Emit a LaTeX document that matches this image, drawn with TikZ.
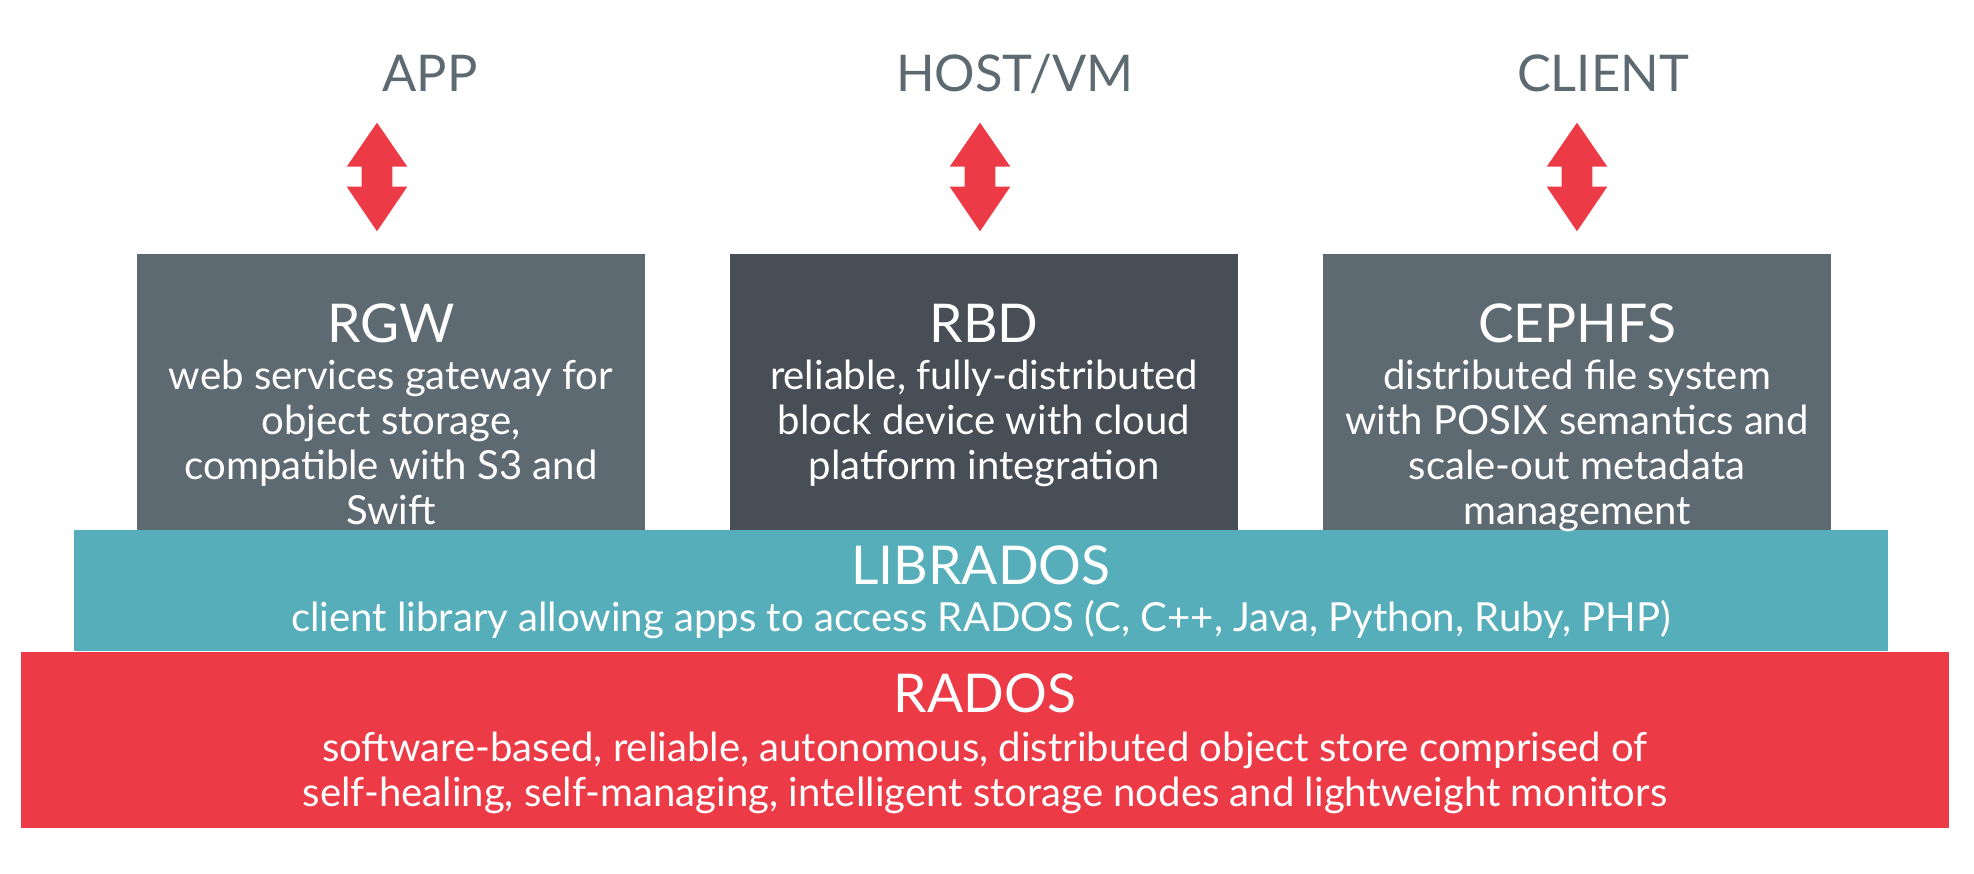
\documentclass[tikz,border=0pt]{standalone}
\usepackage{fontspec}
\setmainfont{Lato}
\usepackage{tikz}
\usetikzlibrary{positioning}
\definecolor{cephGray}{HTML}{5E6A72}
\definecolor{cephDark}{HTML}{474E55}
\definecolor{cephTeal}{HTML}{57AEBB}
\definecolor{cephRed}{HTML}{EC3A46}
\newcommand{\biarrow}[1]{%
  \fill[cephRed] (#1) -- ++(30.3,44) -- ++(-15,0) -- ++(0,20) -- ++(15,0)
    -- ++(-30.3,44.6) -- ++(-30.3,-44.6) -- ++(15,0) -- ++(0,-20) -- ++(-15,0) -- cycle;}
\tikzset{
  svcbox/.style={ draw=none, inner sep=0pt, minimum width=5.08cm, minimum height=2.76cm }
}
\tikzset{
  layerbox/.style={ draw=none, inner sep=0pt }
}
\tikzset{
  boxtitle/.style={ anchor=base, inner sep=0pt, text=white, font=\fontsize{15.2}{17}\selectfont }
}
\tikzset{
  boxtext/.style={ anchor=base, inner sep=0pt, text=white, align=center, font=\fontsize{11.4}{12.8}\selectfont }
}
\tikzset{
  client/.style={ anchor=base, inner sep=0pt, text=cephGray, font=\fontsize{14.4}{17}\selectfont }
}

\begin{document}
\begin{tikzpicture}[y=-0.01cm, x=0.01cm]
      \useasboundingbox (0,0) rectangle (1974,874);
      \node[svcbox, fill=cephGray] (rgw) at (391,392) {};
      \node[svcbox, fill=cephDark] (rbd) at (984,392) {};
      \node[svcbox, fill=cephGray] (cephfs) at (1577,392) {};
      \node[layerbox, fill=cephTeal, minimum width=18.12cm, minimum height=1.21cm] (librados) at (981,590.5) {};
      \node[layerbox, fill=cephRed, minimum width=19.26cm, minimum height=1.76cm] (rados) at (985,740) {};
      \node[boxtitle] (rgwT) at (391,342.7) {RGW};
      \node[boxtitle] (rbdT) at (984,342.7) {RBD};
      \node[boxtitle] (cephfsT) at (1577,342.7) {CEPHFS};
      \node[boxtitle] (libradosT) at (981,585) {LIBRADOS};
      \node[boxtitle] (radosT) at (985,713) {RADOS};
      % base of a multi-line node sits on its last line
      \node[boxtext] (rgwB) at (391,525) {web services gateway for\\object storage,\\compatible with S3 and\\Swift};
      \node[boxtext] (rbdB) at (984,480) {reliable, fully-distributed\\block device with cloud\\platform integration};
      \node[boxtext] (cephfsB) at (1577,525) {distributed file system\\with POSIX semantics and\\scale-out metadata\\management};
      \node[boxtext] (libradosB) at (981,632) {client library allowing apps to access RADOS (C, C++, Java, Python, Ruby, PHP)};
      \node[boxtext] (radosB) at (985,806.7) {software-based, reliable, autonomous, distributed object store comprised of\\self-healing, self-managing, intelligent storage nodes and lightweight monitors};
      \node[client] (app) at (430,91.7) {APP};
      \node[client] (host) at (1015,91.7) {HOST/VM};
      \node[client] (cli) at (1603,91.7) {CLIENT};
      \coordinate (appArr) at (377,122.7);
      \coordinate (hostArr) at (980,122.7);
      \coordinate (cliArr) at (1577,122.7);
      \biarrow{appArr}
      \biarrow{hostArr}
      \biarrow{cliArr}
    \end{tikzpicture}
\end{document}
